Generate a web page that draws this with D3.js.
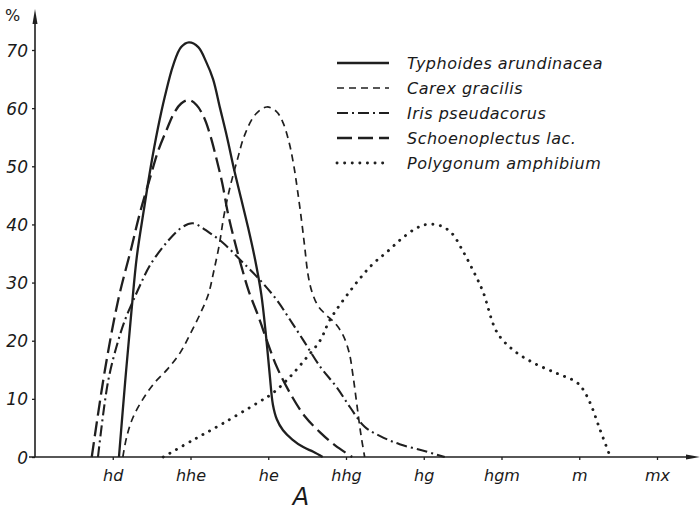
<!DOCTYPE html>
<html>
<head>
<meta charset="utf-8">
<script src="https://cdn.jsdelivr.net/npm/d3@7"></script>
<style>
  body { margin: 0; background: #fff; }
  svg text { font-family: "DejaVu Sans", sans-serif; font-style: italic; fill: #1a1a1a; }
</style>
</head>
<body>
<div id="chart"></div>
<script>
// gradient classes along the x axis (positions 1..8)
const categories = ["hd", "hhe", "he", "hhg", "hg", "hgm", "m", "mx"];
const yTicks = [0, 10, 20, 30, 40, 50, 60, 70];

// curves: [position on gradient, percent]
const typhoides = [
  [1.08, 0], [1.16, 13], [1.24, 25], [1.31, 34.5], [1.40, 42.5], [1.49, 50], [1.58, 56.5],
  [1.67, 62], [1.78, 67.5], [1.88, 70.5], [1.98, 71.3], [2.10, 70.5], [2.20, 68],
  [2.29, 65], [2.38, 60], [2.47, 55], [2.56, 49.5], [2.65, 44.5], [2.74, 39.5],
  [2.83, 34], [2.91, 28], [2.97, 21], [3.02, 14], [3.06, 9], [3.11, 6.5], [3.19, 4.6],
  [3.31, 3], [3.45, 1.7], [3.58, 0.9], [3.70, 0]
];
const carex = [
  [1.13, 0], [1.18, 3.5], [1.26, 6.8], [1.39, 10], [1.54, 12.8], [1.71, 15.2], [1.87, 18],
  [1.99, 21], [2.12, 24.5], [2.23, 28], [2.30, 32], [2.37, 36.5], [2.43, 41.5],
  [2.51, 46.5], [2.60, 51], [2.70, 55.5], [2.84, 59], [2.98, 60.2], [3.10, 59.5],
  [3.19, 57.5], [3.27, 54], [3.33, 50], [3.38, 45.5], [3.43, 40.5], [3.47, 36],
  [3.51, 31.5], [3.56, 28.5], [3.64, 26], [3.74, 24.5], [3.86, 23], [3.96, 21],
  [4.04, 18], [4.09, 14], [4.14, 9], [4.19, 4], [4.24, 0]
];
const iris = [
  [0.81, 0], [0.94, 13], [1.07, 20], [1.17, 24], [1.25, 26.5], [1.35, 29.5], [1.48, 33],
  [1.70, 37], [1.89, 39.5], [2.03, 40.2], [2.25, 38.5], [2.42, 36.8], [2.64, 33.9],
  [2.89, 30.5], [3.11, 27], [3.28, 23.6], [3.45, 20.1], [3.67, 15.5], [3.88, 12],
  [4.05, 8.6], [4.24, 5.2], [4.44, 3.6], [4.69, 2.2], [5.02, 1], [5.27, 0]
];
const schoenoplectus = [
  [0.73, 0], [0.90, 15], [1.07, 27], [1.24, 36], [1.35, 42], [1.48, 48], [1.58, 52.5],
  [1.70, 56.5], [1.79, 59.2], [1.88, 60.8], [1.98, 61.4], [2.08, 60.5], [2.17, 58.5],
  [2.25, 55.5], [2.33, 51.5], [2.41, 47], [2.48, 42], [2.56, 37.5], [2.65, 33],
  [2.75, 28.5], [2.87, 24.3], [2.98, 20.1], [3.11, 15.5], [3.28, 11], [3.47, 7],
  [3.67, 4.2], [3.86, 2], [4.08, 0]
];
const polygonum = [
  [1.65, 0], [2.03, 2.9], [2.42, 5.8], [2.86, 9.3], [3.06, 11], [3.28, 13.8], [3.50, 17.2],
  [3.67, 20.1], [3.79, 23.5], [4.05, 28.5], [4.33, 33], [4.53, 35.3], [4.72, 37.6],
  [4.91, 39.4], [5.04, 40], [5.21, 39.8], [5.36, 38.5], [5.50, 35.5], [5.63, 32.2],
  [5.76, 28.5], [5.94, 21.5], [6.15, 18.4], [6.41, 16.2], [6.71, 14.4], [6.95, 13],
  [7.04, 11.8], [7.14, 9.3], [7.27, 4.6], [7.40, 0]
];
const speciesNames = [
  "Typhoides arundinacea", "Carex gracilis", "Iris pseudacorus",
  "Schoenoplectus lac.", "Polygonum amphibium"
];
const speciesData = [typhoides, carex, iris, schoenoplectus, polygonum];

// line looks, in the same order as the species
const lineStyles = [
  { dash: null, width: 2.3, cap: "butt" },
  { dash: "7 5", width: 1.7, cap: "butt" },
  { dash: "11 4 2 4", width: 2.1, cap: "butt" },
  { dash: "15 6", width: 2.3, cap: "butt" },
  { dash: "0.1 7.5", width: 2.9, cap: "round" }
];

const W = 700, H = 510;
const svg = d3.select("#chart").append("svg")
  .attr("width", W).attr("height", H);

const x = d3.scaleLinear().domain([0, 8]).range([35, 657]);
const y = d3.scaleLinear().domain([0, 70]).range([457, 50]);
const ink = "#1f1f1f";

// ----- axes -----
const yAxis = svg.append("g")
  .attr("transform", `translate(${x(0)},0)`)
  .call(d3.axisLeft(y).tickValues(yTicks).tickSize(3).tickPadding(4));
yAxis.select(".domain").remove();
yAxis.selectAll("line").attr("stroke", ink).attr("stroke-width", 1.3);
yAxis.selectAll("text")
  .style("font-size", "17px")
  .style("font-family", "DejaVu Sans")
  .attr("dy", "0.36em");

const xAxis = svg.append("g")
  .attr("transform", `translate(0,${y(0)})`)
  .call(d3.axisBottom(x)
    .tickValues(d3.range(1, categories.length + 1))
    .tickFormat(i => categories[i - 1])
    .tickSize(3).tickPadding(8));
xAxis.select(".domain").remove();
xAxis.selectAll("line").attr("stroke", ink).attr("stroke-width", 1.3);
xAxis.selectAll("text")
  .style("font-size", "16px")
  .style("font-family", "DejaVu Sans")
  .attr("y", 13);

// axis lines with arrow heads
svg.append("line")
  .attr("x1", x(0)).attr("x2", x(0))
  .attr("y1", y(0)).attr("y2", 18)
  .attr("stroke", ink).attr("stroke-width", 1.6);
svg.append("path")
  .attr("d", `M${x(0) - 2.5},24 L${x(0)},9 L${x(0) + 2.5},24 Z`)
  .attr("fill", ink);
svg.append("line")
  .attr("x1", x(0) - 6).attr("x2", 690)
  .attr("y1", y(0)).attr("y2", y(0))
  .attr("stroke", ink).attr("stroke-width", 1.6);
svg.append("path")
  .attr("d", `M686,${y(0) - 2.5} L700,${y(0)} L686,${y(0) + 2.5} Z`)
  .attr("fill", ink);

svg.append("text")
  .attr("x", 5).attr("y", 21)
  .style("font-size", "16px")
  .style("font-style", "normal")
  .text("%");

svg.append("text")
  .attr("x", 301).attr("y", 505)
  .attr("text-anchor", "middle")
  .style("font-size", "24px")
  .text("A");

// ----- curves -----
const line = d3.line()
  .x(d => x(d[0]))
  .y(d => y(d[1]))
  .curve(d3.curveCatmullRom.alpha(0.5));

svg.append("g")
  .selectAll("path")
  .data(speciesData)
  .join("path")
  .attr("d", line)
  .attr("fill", "none")
  .attr("stroke", ink)
  .attr("stroke-width", (d, i) => lineStyles[i].width)
  .attr("stroke-dasharray", (d, i) => lineStyles[i].dash)
  .attr("stroke-linecap", (d, i) => lineStyles[i].cap);

// ----- legend -----
const legend = svg.append("g").attr("transform", "translate(337,63)");
const rows = legend.selectAll("g")
  .data(speciesNames)
  .join("g")
  .attr("transform", (d, i) => `translate(0,${i * 25})`);

rows.append("line")
  .attr("x1", 0).attr("x2", 52)
  .attr("y1", 0).attr("y2", 0)
  .attr("stroke", ink)
  .attr("stroke-width", (d, i) => lineStyles[i].width)
  .attr("stroke-dasharray", (d, i) => lineStyles[i].dash)
  .attr("stroke-linecap", (d, i) => lineStyles[i].cap);

rows.append("text")
  .attr("x", 70).attr("y", 6)
  .style("font-size", "16px")
  .style("letter-spacing", "0.5px")
  .text(d => d);
</script>
</body>
</html>
